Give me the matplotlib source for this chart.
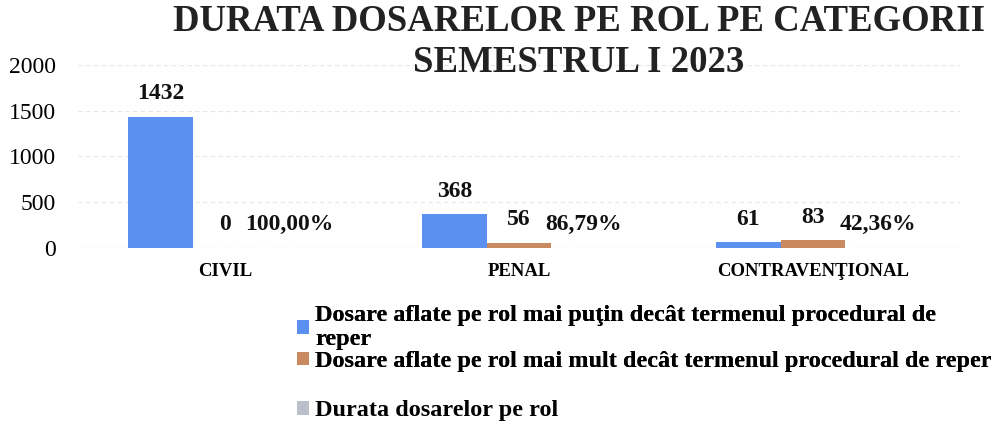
import matplotlib
matplotlib.use("Agg")
import matplotlib.pyplot as plt
import numpy as np
from matplotlib.patches import Patch

categories = ["CIVIL", "PENAL", "CONTRAVENŢIONAL"]
sub_termen = [1432, 368, 61]
peste_termen = [0, 56, 83]
durata = [1.0, 0.8679, 0.4236]
durata_labels = ["100,00%", "86,79%", "42,36%"]
series_names = [
    "Dosare aflate pe rol mai puţin decât termenul procedural de\nreper",
    "Dosare aflate pe rol mai mult decât termenul procedural de reper",
    "Durata dosarelor pe rol",
]
colors = ["#5b8ff0", "#c98a5f", "#b9c0cc"]
title = "DURATA DOSARELOR PE ROL PE CATEGORII\nSEMESTRUL I 2023"

plt.rcParams['font.family'] = ['Liberation Serif', 'DejaVu Serif']

fig = plt.figure(figsize=(10, 4.25), dpi=100)
ax = fig.add_axes([0.078, 0.417, 0.882, 0.43])

x = np.arange(len(categories))
w = 0.22
series = [sub_termen, peste_termen, durata]
bars = []
for i, (vals, c) in enumerate(zip(series, colors)):
    b = ax.bar(x + (i - 1) * w, vals, width=w, color=c, zorder=3)
    bars.append(b)

for i, b in enumerate(bars):
    for j, rect in enumerate(b):
        if i == 2:
            lab = durata_labels[j]
        else:
            lab = str(series[i][j])
        ax.annotate(lab, (rect.get_x() + rect.get_width() / 2, rect.get_height()),
                    xytext=(0, 9), textcoords="offset points", ha="center", va="bottom",
                    fontsize=17, fontweight="bold", color="#111111")

ax.set_ylim(0, 2000)
ax.set_yticks([0, 500, 1000, 1500, 2000])
ax.set_xlim(-0.5, 2.5)
ax.set_xticks(x)
ax.set_xticklabels(categories, fontsize=13.5, fontweight="bold")
ax.tick_params(axis="y", labelsize=17, length=0, pad=16)
ax.tick_params(axis="x", length=0, pad=11)
for s in ax.spines.values():
    s.set_visible(False)
ax.yaxis.grid(True, color="#e6e6e6", linestyle=(0, (4, 3)), linewidth=0.8, zorder=0)
ax.axhline(0, color="#dddddd", linewidth=0.8, zorder=2)

fig.text(0.579, 0.99, title, ha="center", va="top", fontsize=26.5, fontweight="bold",
         color="#222222", linespacing=1.22)

h = [Patch(facecolor=c) for c in colors]
lp = {"size": 17.5, "weight": "bold"}
leg1 = fig.legend(h[:2], series_names[:2], loc="upper left", bbox_to_anchor=(0.297, 0.283),
                  frameon=False, prop=lp, handlelength=0.5,
                  handleheight=0.5, handletextpad=0.25, labelspacing=0.05, borderpad=0,
                  borderaxespad=0)
fig.legend(h[2:], series_names[2:], loc="upper left", bbox_to_anchor=(0.297, 0.058),
           frameon=False, prop=lp, handlelength=0.5,
           handleheight=0.5, handletextpad=0.25, borderpad=0, borderaxespad=0)
fig.add_artist(leg1)

fig.savefig("out.png", dpi=100)
